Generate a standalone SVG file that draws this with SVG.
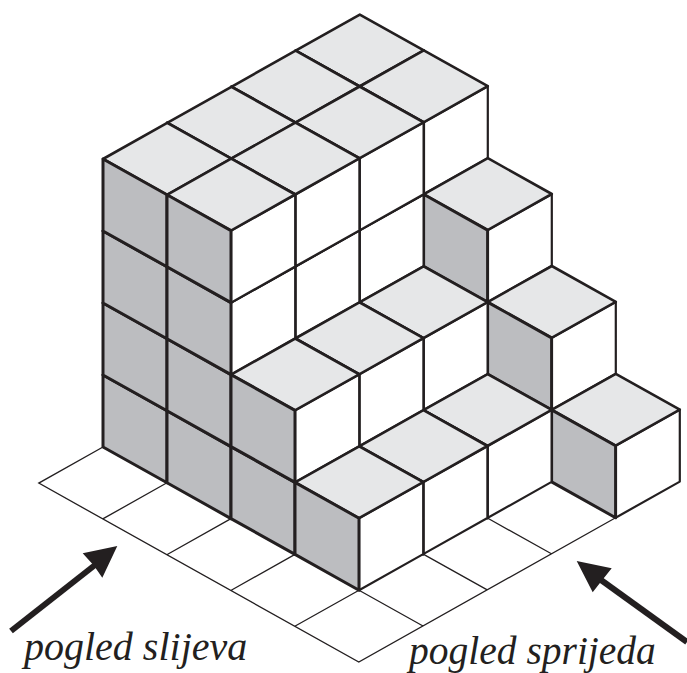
<svg xmlns="http://www.w3.org/2000/svg" xmlns:xlink="http://www.w3.org/1999/xlink" width="687" height="673" viewBox="0 0 687 673">
<style>
.r{fill:#fff;stroke:#231f20;stroke-width:2.2;stroke-linejoin:round}
.t{fill:#e6e7e8;stroke:#231f20;stroke-width:2.6;stroke-linejoin:round}
.l{fill:#bcbdc0;stroke:#231f20;stroke-width:3;stroke-linejoin:round}
.g{fill:none;stroke:#231f20;stroke-width:1.3}
.a{stroke:#231f20;stroke-width:6;fill:none}
.h{fill:#231f20}
text{font-family:"Liberation Serif","Times New Roman",serif;font-style:italic;font-size:40px;fill:#231f20}
</style>
<defs>
<g id="cube">
<path class="r" d="M64 35.8L128.2 -.3V-72.3L64 -36.2Z"/>
<path class="t" d="M0 -72L64 -36.2L128.2 -72.3L64.2 -108.1Z"/>
<path class="l" d="M0 0L64 35.8V-36.2L0 -72Z"/>
</g>
</defs>
<path class="g" d="M103 447L38.8 483.1L358.8 662.1L615.6 517.7M167 482.8L102.8 518.9M231 518.6L166.8 554.7M295 554.4L230.8 590.5M359 590.2L294.8 626.3M359 590.2L423 626M423.2 554.1L487.2 589.9M487.4 518L551.4 553.8"/>
<g id="cubes">
<use href="#cube" x="295.6" y="122.7"/>
<use href="#cube" x="359.6" y="158.5"/>
<use href="#cube" x="423.6" y="266.3"/>
<use href="#cube" x="487.6" y="374.1"/>
<use href="#cube" x="551.6" y="481.9"/>
<use href="#cube" x="231.4" y="158.8"/>
<use href="#cube" x="295.4" y="266.6"/>
<use href="#cube" x="295.4" y="194.6"/>
<use href="#cube" x="359.4" y="374.4"/>
<use href="#cube" x="423.4" y="482.2"/>
<use href="#cube" x="167.2" y="194.9"/>
<use href="#cube" x="231.2" y="302.7"/>
<use href="#cube" x="231.2" y="230.7"/>
<use href="#cube" x="295.2" y="410.5"/>
<use href="#cube" x="359.2" y="518.3"/>
<use href="#cube" x="103" y="447"/>
<use href="#cube" x="103" y="375"/>
<use href="#cube" x="103" y="303"/>
<use href="#cube" x="103" y="231"/>
<use href="#cube" x="167" y="482.8"/>
<use href="#cube" x="167" y="410.8"/>
<use href="#cube" x="167" y="338.8"/>
<use href="#cube" x="167" y="266.8"/>
<use href="#cube" x="231" y="518.6"/>
<use href="#cube" x="231" y="446.6"/>
<use href="#cube" x="295" y="554.4"/>
</g>
<g id="arrows">
<path class="a" d="M11 631L95 565"/>
<polygon class="h" points="117.3,546 82.7,553.3 94,565.7 102.3,577.7"/>
<path class="a" d="M687 642L601 580"/>
<polygon class="h" points="576.7,561 611.7,568.3 601.7,580.7 592.7,592.3"/>
</g>
<text x="24" y="660" style="font-size:40px">pogled slijeva</text>
<text x="409" y="664" style="font-size:39.5px">pogled sprijeda</text>
</svg>
